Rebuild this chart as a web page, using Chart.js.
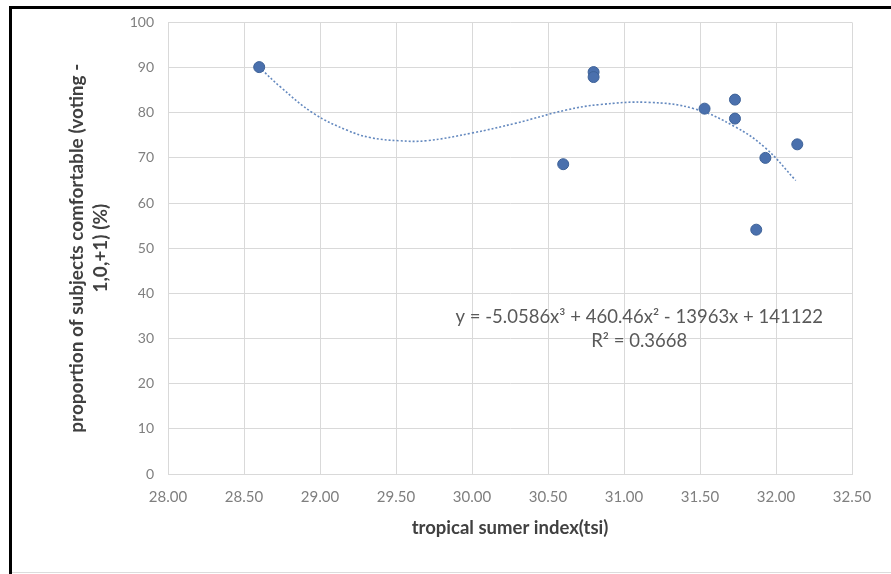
<!DOCTYPE html>
<html>
<head>
<meta charset="utf-8">
<script src="https://cdn.jsdelivr.net/npm/chart.js@4.4.1/dist/chart.umd.min.js"></script>
<style>
  html, body { margin: 0; padding: 0; background: #fff; }
  canvas { display: block; }
</style>
</head>
<body>
<canvas id="tsi" width="891" height="574"></canvas>
<script>
// measured points: tsi vs % comfortable
let tsi_values = [28.60, 30.60, 30.80, 30.80, 31.53, 31.73, 31.73, 31.87, 31.93, 32.14];
let comfort_pct = [90.1, 68.6, 89.0, 87.9, 80.9, 82.9, 78.7, 54.1, 70.0, 73.0];

// dotted poly trendline
let trend_x = [28.60, 28.74, 28.96, 29.18, 29.33, 29.52, 29.70, 30.00, 30.29, 30.62, 30.84, 31.16, 31.46, 31.73, 31.93, 32.13];
let trend_y = [90.1, 85.7, 79.8, 76.1, 74.5, 73.8, 73.8, 75.5, 77.7, 80.6, 81.8, 82.3, 80.9, 76.9, 72.2, 65.0];

let x_ticks = [28.0, 28.5, 29.0, 29.5, 30.0, 30.5, 31.0, 31.5, 32.0, 32.5];
let y_ticks = [0, 10, 20, 30, 40, 50, 60, 70, 80, 90, 100];

let x_title = "tropical sumer index(tsi)";
let y_title = ["proportion of subjects comfortable (voting -", "1,0,+1) (%)"];
let eq_lines = ["y = -5.0586x\u00B3 + 460.46x\u00B2 - 13963x + 141122", "R\u00B2 = 0.3668"];
let eq_anchor = {x: 31.10, y: 34.8};

function to_points(xs, ys) {
    let pts = [];
    for (let i = 0; i < xs.length; i++) {
        pts.push({x: xs[i], y: ys[i]});
    }
    return pts;
}

const framePlugin = {
    id: 'frame',
    beforeDraw(chart) {
        let ctx = chart.ctx;
        ctx.save();
        ctx.fillStyle = '#ffffff';
        ctx.fillRect(0, 0, chart.width, chart.height);
        ctx.fillStyle = '#000000';
        ctx.fillRect(9, 6, chart.width - 9, 3);
        ctx.fillRect(9, 6, 3, chart.height - 6);
        ctx.fillStyle = '#dcdcdc';
        ctx.fillRect(12, 572, chart.width - 12, 1);
        ctx.restore();
    }
};

const equationPlugin = {
    id: 'equation',
    afterDatasetsDraw(chart) {
        let ctx = chart.ctx;
        let xs = chart.scales.x, ys = chart.scales.y;
        let cx = xs.getPixelForValue(eq_anchor.x);
        let cy = ys.getPixelForValue(eq_anchor.y);
        ctx.save();
        ctx.font = '18.5px Lato';
        ctx.fillStyle = '#595959';
        ctx.textAlign = 'center';
        ctx.textBaseline = 'middle';
        ctx.fillText(eq_lines[0], cx, cy);
        ctx.fillText(eq_lines[1], cx, cy + 24);
        ctx.restore();
    }
};

let ctx = document.getElementById("tsi").getContext("2d");

let chart = new Chart(ctx, {
    type: 'scatter',
    data: {
        datasets: [{
            label: "comfortable",
            data: to_points(tsi_values, comfort_pct),
            backgroundColor: '#4a70ad',
            borderColor: '#3e6298',
            borderWidth: 1,
            pointRadius: 5.5,
            order: 1
        }, {
            label: "trend",
            type: 'line',
            data: to_points(trend_x, trend_y),
            borderColor: '#6489bf',
            borderWidth: 1.6,
            borderDash: [2, 2],
            pointRadius: 0,
            tension: 0.4,
            fill: false,
            order: 2
        }]
    },
    options: {
        responsive: false,
        animation: false,
        devicePixelRatio: 1,
        layout: {
            padding: {left: 0, top: 20, right: 39, bottom: 30}
        },
        plugins: {
            legend: {display: false},
            tooltip: {enabled: false}
        },
        scales: {
            x: {
                type: 'linear',
                min: 28,
                max: 32.5,
                afterBuildTicks: function(scale) {
                    scale.ticks = x_ticks.map(v => ({value: v}));
                },
                afterFit: function(scale) { scale.height = 70; },
                grid: {color: '#d9d9d9', drawTicks: false},
                border: {color: '#d9d9d9'},
                ticks: {
                    padding: 14,
                    color: '#7f7f7f',
                    font: {family: 'Lato', size: 15},
                    callback: v => v.toFixed(2)
                },
                title: {
                    display: true,
                    text: x_title,
                    color: '#404040',
                    font: {family: 'Lato', size: 18.5, weight: 'bold'},
                    padding: {top: 0, bottom: 5}
                }
            },
            y: {
                type: 'linear',
                min: 0,
                max: 100,
                afterBuildTicks: function(scale) {
                    scale.ticks = y_ticks.map(v => ({value: v}));
                },
                afterFit: function(scale) { scale.width = 168; },
                grid: {color: '#d9d9d9', drawTicks: false},
                border: {color: '#d9d9d9'},
                ticks: {
                    padding: 14,
                    color: '#7f7f7f',
                    font: {family: 'Lato', size: 14}
                },
                title: {
                    display: true,
                    text: y_title,
                    color: '#404040',
                    font: {family: 'Lato', size: 19, weight: 'bold', lineHeight: 1.25},
                    padding: {top: 65, bottom: 0}
                }
            }
        }
    },
    plugins: [framePlugin, equationPlugin]
});
</script>
</body>
</html>
